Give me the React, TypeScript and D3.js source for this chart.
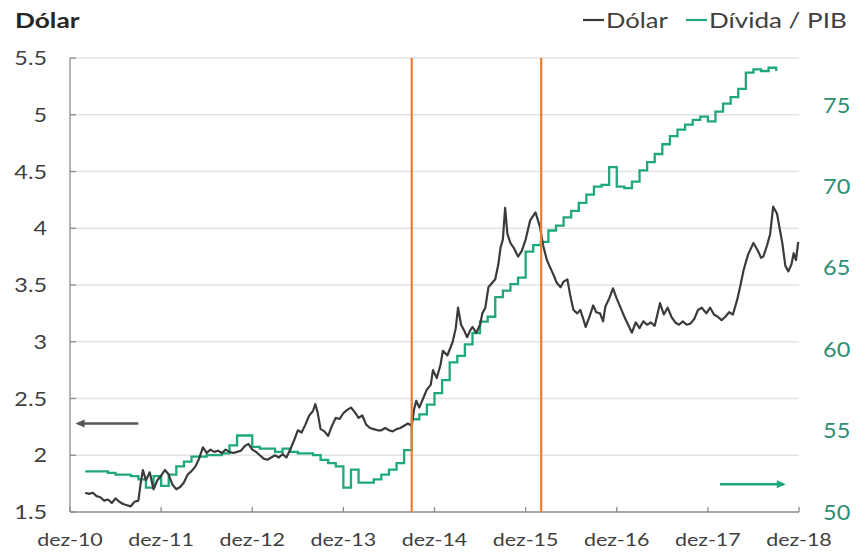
import React from "react";
import * as d3 from "d3";

// ---------- data ----------
const xTickLabels = ["dez-10", "dez-11", "dez-12", "dez-13", "dez-14", "dez-15", "dez-16", "dez-17", "dez-18"];
const xTickMonths = [0, 12, 24, 36, 48, 60, 72, 84, 96];
const leftTicks = [1.5, 2, 2.5, 3, 3.5, 4, 4.5, 5, 5.5];
const leftTickLabels = ["1.5", "2", "2.5", "3", "3.5", "4", "4.5", "5", "5.5"];
const rightTicks = [50, 55, 60, 65, 70, 75];
const eventMonths = [45, 62.05];

// Dívida / PIB (monthly, months since dez-10, starting at month 2)
const debtFirstMonth = 2;
const debtValues = [
  52.5, 52.5, 52.5, 52.4, 52.3, 52.3, 52.2, 52.0, 51.5, 52.2, 51.6, 52.3,
  52.8, 53.1, 53.4, 53.4, 53.5, 53.5, 53.6, 54.1, 54.7, 54.7, 54.0, 53.9,
  53.9, 53.7, 53.9, 53.7, 53.6, 53.6, 53.5, 53.2, 53.0, 52.8, 51.5, 52.6,
  51.8, 51.8, 52.0, 52.3, 52.6, 53.0, 53.8, 55.7, 56.0, 56.6, 57.3, 58.1,
  59.2, 59.6, 60.3, 61.0, 61.7, 62.0, 63.2, 63.6, 64.0, 64.4, 66.0, 66.4,
  66.6, 67.3, 67.6, 68.1, 68.5, 69.0, 69.5, 70.0, 70.1, 71.2, 70.0, 69.9,
  70.3, 71.0, 71.5, 72.0, 72.6, 73.1, 73.5, 73.8, 74.1, 74.3, 74.0, 74.6,
  75.1, 75.5, 76.0, 77.0, 77.2, 77.1, 77.3, 77.1,
];

// Dólar (months since dez-10, R$/US$)
const dollarMonths = [
  2.0, 2.5, 3.0, 3.5, 4.0, 4.5, 5.0, 5.5, 6.0, 6.5, 7.0, 7.5, 8.0, 8.5, 9.0, 9.3, 9.6,
  10.0, 10.5, 11.0, 11.5, 12.0, 12.5, 13.0, 13.5, 14.0, 14.5, 15.0, 15.5, 16.0, 16.5,
  17.0, 17.5, 18.0, 18.5, 19.0, 19.5, 20.0, 20.5, 21.0, 21.5, 22.0, 22.5, 23.0, 23.5,
  24.0, 24.5, 25.0, 25.5, 26.0, 26.5, 27.0, 27.5, 28.0, 28.5, 29.0, 29.5, 30.0, 30.5,
  31.0, 31.5, 32.0, 32.3, 32.6, 33.0, 33.5, 34.0, 34.5, 35.0, 35.5, 36.0, 36.5, 37.0,
  37.5, 38.0, 38.5, 39.0, 39.5, 40.0, 40.5, 41.0, 41.5, 42.0, 42.5, 43.0, 43.5, 44.0,
  44.5, 45.0, 45.3, 45.6, 46.0, 46.5, 47.0, 47.5, 47.8, 48.3, 48.8, 49.1, 49.7, 50.4,
  50.8, 51.1, 51.5, 51.9, 52.3, 52.7, 53.0, 53.5, 54.0, 54.3, 54.7, 55.1, 55.6, 56.0,
  56.4, 56.7, 57.0, 57.3, 57.6, 58.0, 58.5, 59.0, 59.5, 60.0, 60.6, 61.3, 61.9, 62.3,
  62.8, 63.2, 63.6, 64.1, 64.6, 65.0, 65.5, 65.9, 66.3, 66.8, 67.2, 67.6, 67.9, 68.4,
  68.9, 69.3, 69.8, 70.2, 70.5, 71.0, 71.5, 72.0, 72.5, 73.0, 73.5, 74.0, 74.5, 75.0,
  75.5, 76.0, 76.5, 77.0, 77.7, 78.2, 78.7, 79.2, 79.7, 80.2, 80.7, 81.2, 81.7, 82.2,
  82.7, 83.2, 83.8, 84.3, 84.8, 85.3, 85.8, 86.3, 86.8, 87.3, 87.9, 88.3, 88.7, 89.3,
  90.0, 90.6, 91.0, 91.3, 91.8, 92.2, 92.6, 93.1, 93.5, 93.8, 94.2, 94.6, 95.0, 95.3,
  95.6, 95.9,
];
const dollarValues = [
  1.67, 1.66, 1.67, 1.64, 1.63, 1.60, 1.61, 1.58, 1.62, 1.59, 1.57, 1.56, 1.55, 1.59, 1.60, 1.75, 1.87,
  1.78, 1.85, 1.70, 1.78, 1.82, 1.87, 1.83, 1.74, 1.70, 1.72, 1.76, 1.83, 1.86, 1.90,
  1.97, 2.07, 2.02, 2.05, 2.03, 2.04, 2.02, 2.05, 2.03, 2.02, 2.03, 2.04, 2.08, 2.10,
  2.05, 2.03, 2.00, 1.97, 1.96, 1.98, 2.00, 1.98, 2.01, 1.98, 2.05, 2.13, 2.22, 2.20,
  2.27, 2.35, 2.39, 2.45, 2.38, 2.23, 2.21, 2.17, 2.26, 2.33, 2.32, 2.37, 2.40, 2.42,
  2.38, 2.33, 2.35, 2.27, 2.24, 2.23, 2.22, 2.22, 2.24, 2.22, 2.21, 2.23, 2.24, 2.26,
  2.28, 2.26, 2.40, 2.48, 2.42, 2.50, 2.58, 2.62, 2.75, 2.68, 2.80, 2.92, 2.88, 3.00,
  3.12, 3.30, 3.15, 3.10, 3.04, 3.10, 3.13, 3.08, 3.15, 3.25, 3.30, 3.48, 3.52, 3.55,
  3.68, 3.83, 3.90, 4.18, 3.95, 3.87, 3.82, 3.75, 3.80, 3.90, 4.07, 4.14, 4.01, 3.85,
  3.72, 3.66, 3.60, 3.52, 3.48, 3.53, 3.55, 3.40, 3.28, 3.25, 3.28, 3.20, 3.13, 3.22,
  3.32, 3.26, 3.25, 3.18, 3.31, 3.38, 3.47, 3.38, 3.30, 3.22, 3.15, 3.08, 3.17, 3.12,
  3.18, 3.15, 3.17, 3.14, 3.34, 3.24, 3.30, 3.22, 3.17, 3.15, 3.18, 3.15, 3.16, 3.20,
  3.28, 3.30, 3.25, 3.30, 3.24, 3.22, 3.19, 3.22, 3.26, 3.24, 3.38, 3.50, 3.63, 3.77,
  3.87, 3.80, 3.74, 3.75, 3.85, 3.95, 4.19, 4.13, 3.98, 3.87, 3.67, 3.62, 3.68, 3.78,
  3.72, 3.88,
];

// ---------- layout ----------
const W = 862;
const H = 552;
const plotLeft = 70;
const plotRight = 799;
const plotTop = 58;
const plotBottom = 512;

const FONT = "Lato, 'Open Sans', 'DejaVu Sans', sans-serif";
const DOLLAR_COLOR = "#3b3b3b";
const DEBT_COLOR = "#1fa87a";
const EVENT_COLOR = "#ED7D31";
const SX = 1.2; // horizontal text widening to match the reference face

function T(props: {
  x: number;
  y: number;
  sx?: number;
  children: React.ReactNode;
  [k: string]: any;
}) {
  const { x, y, sx = SX, children, ...rest } = props;
  return (
    <text transform={`translate(${x},${y}) scale(${sx},1)`} {...rest}>
      {children}
    </text>
  );
}

export default function App() {
  const x = d3.scaleLinear().domain([0, 96]).range([plotLeft, plotRight]);
  const yL = d3.scaleLinear().domain([1.5, 5.5]).range([plotBottom, plotTop]);
  const yR = d3.scaleLinear().domain([50, 77.9]).range([plotBottom, plotTop]);

  const debtData = debtValues.map((v, i) => [debtFirstMonth + i, v] as [number, number]);
  const dollarData = dollarMonths.map((m, i) => [m, dollarValues[i]] as [number, number]);

  const debtLine = d3
    .line<[number, number]>()
    .x((d) => x(d[0]))
    .y((d) => yR(d[1]))
    .curve(d3.curveStepAfter);
  const dollarLine = d3
    .line<[number, number]>()
    .x((d) => x(d[0]))
    .y((d) => yL(d[1]));

  const grayArrowY = yL(2.28);
  const greenArrowY = yR(51.7);

  return (
    <svg
      width={W}
      height={H}
      style={{ position: "absolute", left: 0, top: 0, background: "#fff" }}
      fontFamily={FONT}
    >
      {/* gridlines */}
      {leftTicks.slice(1).map((t) => (
        <line key={t} x1={plotLeft} x2={plotRight} y1={yL(t)} y2={yL(t)} stroke="#e3e3e3" strokeWidth={1.3} />
      ))}
      {/* left axis */}
      <line x1={plotLeft} x2={plotLeft} y1={plotTop} y2={plotBottom} stroke="#8c8c8c" strokeWidth={1.3} />
      {leftTicks.map((t) => (
        <line key={"lt" + t} x1={plotLeft} x2={plotLeft + 6} y1={yL(t)} y2={yL(t)} stroke="#8c8c8c" strokeWidth={1.3} />
      ))}
      {/* x axis */}
      <line x1={plotLeft} x2={plotRight} y1={plotBottom} y2={plotBottom} stroke="#8c8c8c" strokeWidth={1.3} />
      {xTickMonths.map((m) => (
        <line key={"xt" + m} x1={x(m)} x2={x(m)} y1={plotBottom} y2={plotBottom - 5} stroke="#8c8c8c" strokeWidth={1.3} />
      ))}

      {/* series */}
      <path d={debtLine(debtData) || ""} fill="none" stroke={DEBT_COLOR} strokeWidth={2.3} />
      <path d={dollarLine(dollarData) || ""} fill="none" stroke={DOLLAR_COLOR} strokeWidth={2.2} strokeLinejoin="round" />

      {/* event lines */}
      {eventMonths.map((m) => (
        <line key={"ev" + m} x1={x(m)} x2={x(m)} y1={plotTop} y2={plotBottom} stroke={EVENT_COLOR} strokeWidth={2.2} />
      ))}

      {/* arrows */}
      <line x1={x(1)} x2={x(9)} y1={grayArrowY} y2={grayArrowY} stroke="#555" strokeWidth={2.5} />
      <path
        d={`M${x(1) - 2},${grayArrowY} L${x(1) + 7},${grayArrowY - 4} L${x(1) + 7},${grayArrowY + 4} Z`}
        fill="#555"
      />
      <line x1={x(85.6)} x2={x(94)} y1={greenArrowY} y2={greenArrowY} stroke={DEBT_COLOR} strokeWidth={2.5} />
      <path
        d={`M${x(94) + 2},${greenArrowY} L${x(94) - 7},${greenArrowY - 4} L${x(94) - 7},${greenArrowY + 4} Z`}
        fill={DEBT_COLOR}
      />

      {/* left tick labels */}
      {leftTicks.map((t, i) => (
        <T key={"ll" + t} x={47} y={yL(t)} sx={1.17} dy="0.36em" textAnchor="end" fontSize={20} fill="#404040">
          {leftTickLabels[i]}
        </T>
      ))}
      {/* right tick labels */}
      {rightTicks.map((t) => (
        <T key={"rl" + t} x={823} y={yR(t)} sx={1.12} dy="0.36em" textAnchor="start" fontSize={21} fill="#2d8f72">
          {t}
        </T>
      ))}
      {/* x tick labels */}
      {xTickMonths.map((m, i) => (
        <T key={"xl" + m} x={x(m)} y={546} sx={1.19} textAnchor="middle" fontSize={18} fill="#404040">
          {xTickLabels[i]}
        </T>
      ))}

      {/* title */}
      <T x={15} y={28} sx={1.25} fontSize={21} fontWeight="bold" fill="#262626">
        Dólar
      </T>

      {/* legend */}
      <line x1={583} x2={604} y1={20} y2={20} stroke={DOLLAR_COLOR} strokeWidth={2.2} />
      <T x={606} y={28} sx={1.22} fontSize={21} fill="#404040">
        Dólar
      </T>
      <line x1={686} x2={707} y1={20} y2={20} stroke={DEBT_COLOR} strokeWidth={2.2} />
      <T x={709} y={28} sx={1.24} fontSize={21} fill="#404040">
        Dívida / PIB
      </T>
    </svg>
  );
}
